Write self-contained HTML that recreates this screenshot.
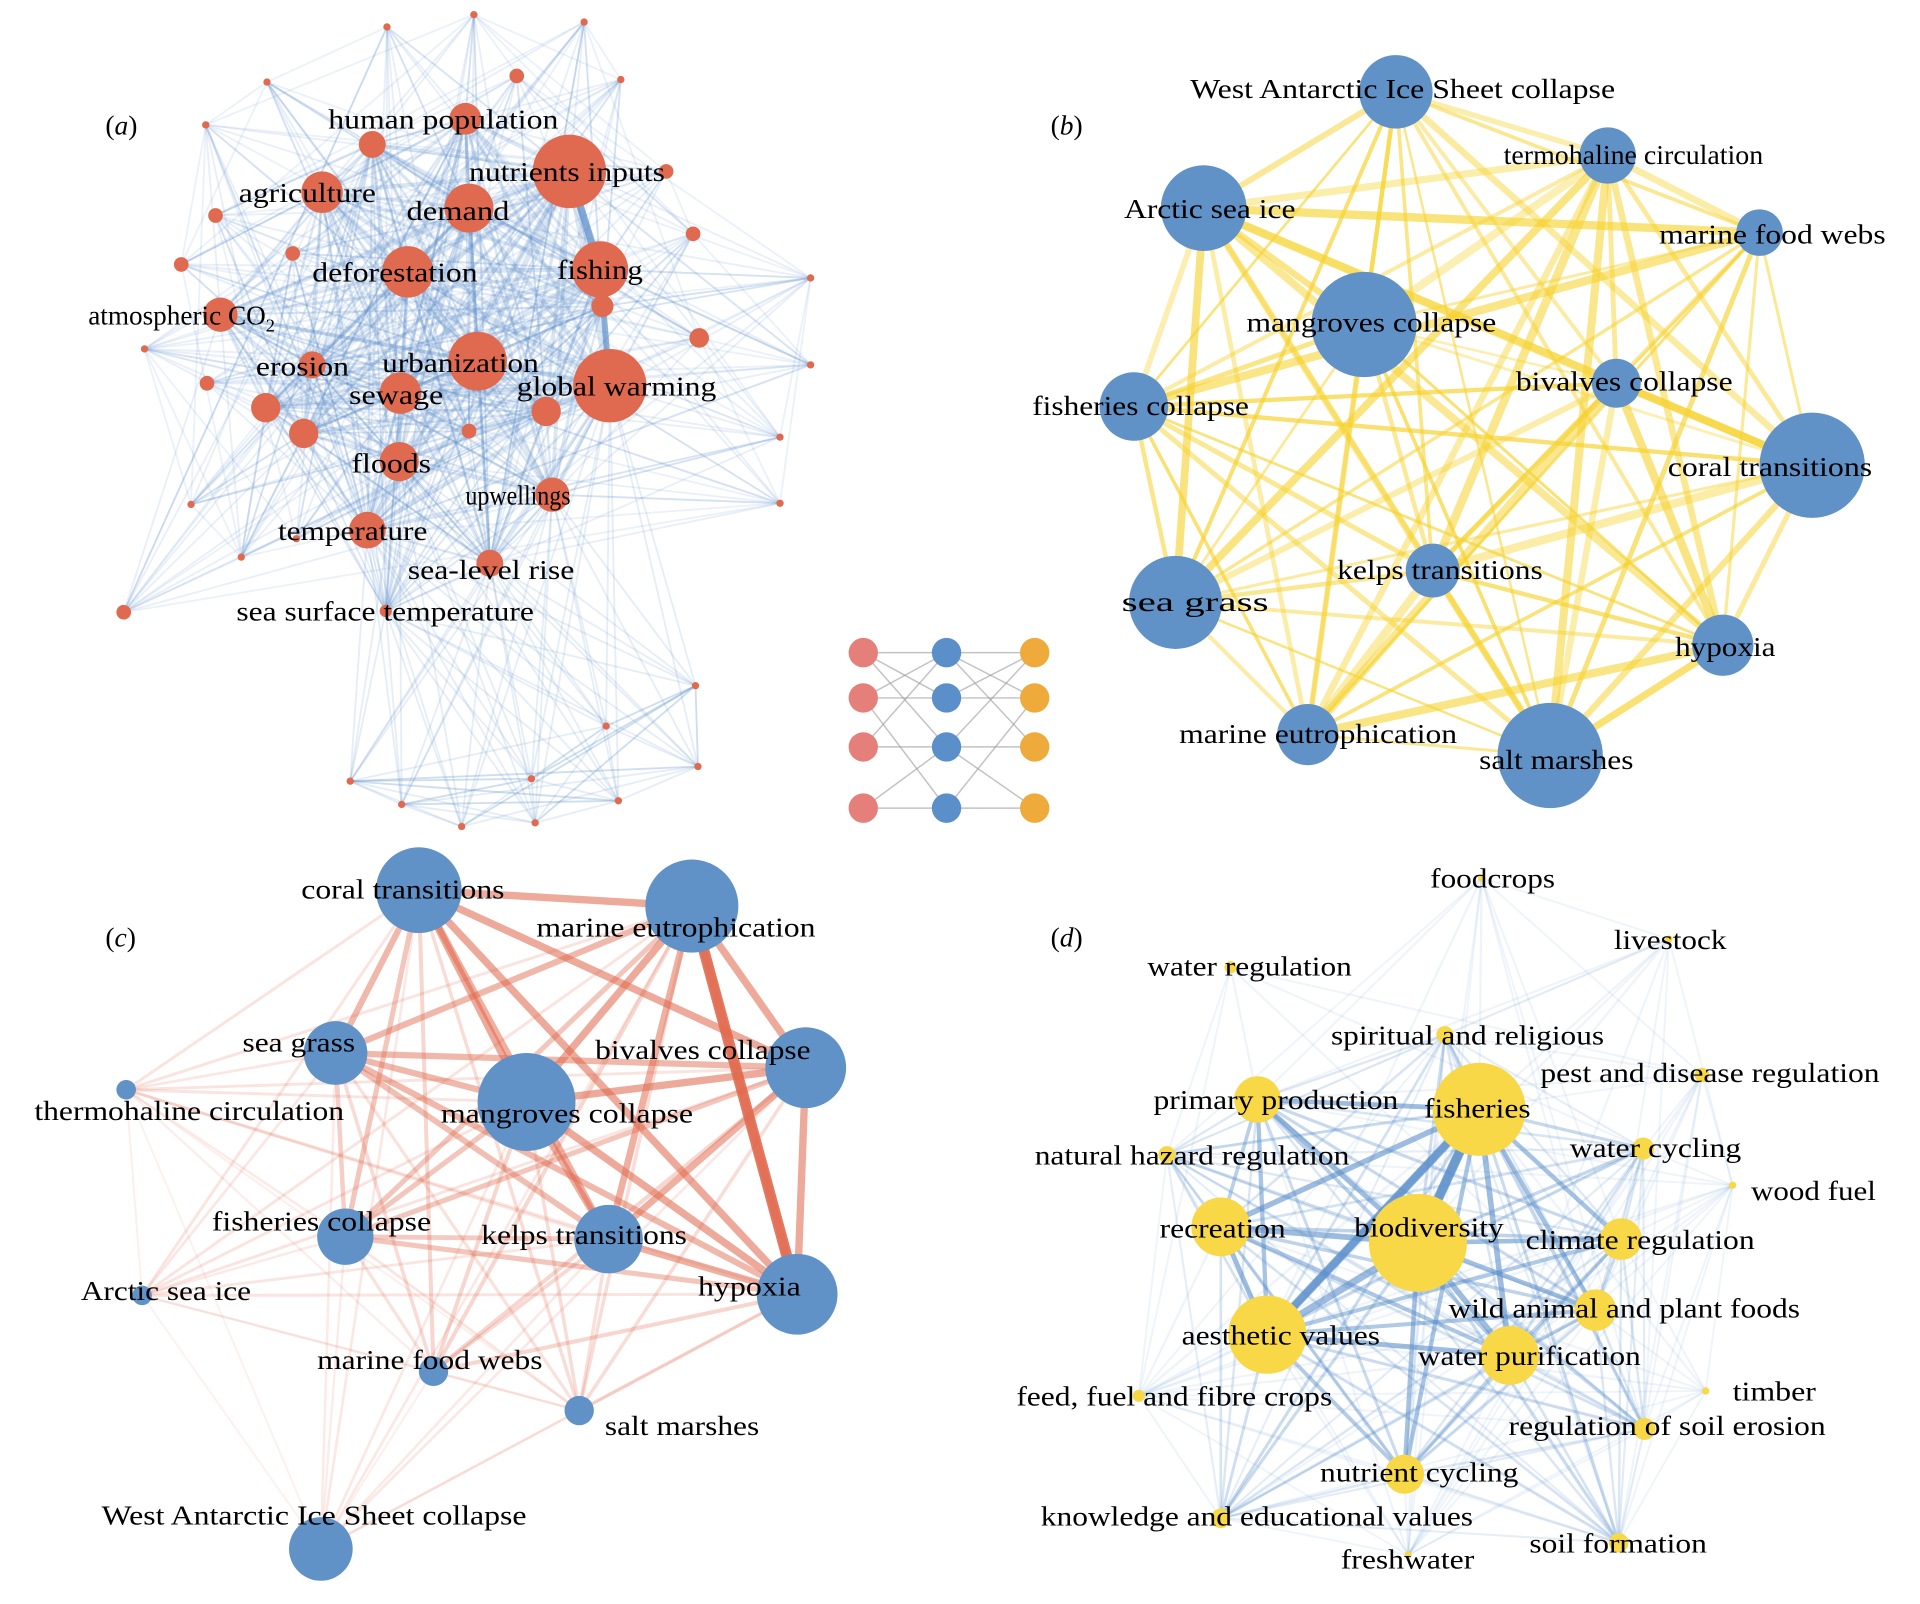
<!DOCTYPE html>
<html><head><meta charset="utf-8"><style>
html,body{margin:0;padding:0;background:#fff;}
svg{display:block;}
text{font-family:"Liberation Serif",serif;font-size:22.5px;fill:#000;}
</style></head><body>
<svg id="s" width="1920" height="1604" viewBox="0 0 1568 1310" xmlns="http://www.w3.org/2000/svg">
<g id="edges"></g><g id="nodes"></g>
<g id="labels">
<text x="86" y="102" dy=".35em">(<tspan font-style="italic">a</tspan>)</text>
<text x="858" y="102" dy=".35em">(<tspan font-style="italic">b</tspan>)</text>
<text x="86" y="765" dy=".35em">(<tspan font-style="italic">c</tspan>)</text>
<text x="858" y="765" dy=".35em">(<tspan font-style="italic">d</tspan>)</text>
<!-- a -->
<text x="268" y="97" dy=".35em" textLength="188" lengthAdjust="spacingAndGlyphs">human population</text>
<text x="383" y="140" dy=".35em" textLength="160" lengthAdjust="spacingAndGlyphs">nutrients inputs</text>
<text x="195" y="157" dy=".35em" textLength="112" lengthAdjust="spacingAndGlyphs">agriculture</text>
<text x="332" y="172" dy=".35em" textLength="84" lengthAdjust="spacingAndGlyphs">demand</text>
<text x="255" y="222" dy=".35em" textLength="135" lengthAdjust="spacingAndGlyphs">deforestation</text>
<text x="455" y="220" dy=".35em" textLength="70" lengthAdjust="spacingAndGlyphs">fishing</text>
<text x="72" y="257" dy=".35em"><tspan textLength="145" lengthAdjust="spacingAndGlyphs">atmospheric CO</tspan><tspan font-size="15" dy="6">2</tspan></text>
<text x="209" y="299" dy=".35em" textLength="76" lengthAdjust="spacingAndGlyphs">erosion</text>
<text x="312" y="296" dy=".35em" textLength="128" lengthAdjust="spacingAndGlyphs">urbanization</text>
<text x="285" y="322" dy=".35em" textLength="77" lengthAdjust="spacingAndGlyphs">sewage</text>
<text x="422" y="315" dy=".35em" textLength="163" lengthAdjust="spacingAndGlyphs">global warming</text>
<text x="287" y="378" dy=".35em" textLength="65" lengthAdjust="spacingAndGlyphs">floods</text>
<text x="380" y="404" dy=".35em" textLength="86" lengthAdjust="spacingAndGlyphs">upwellings</text>
<text x="227" y="433" dy=".35em" textLength="122" lengthAdjust="spacingAndGlyphs">temperature</text>
<text x="333" y="465" dy=".35em" textLength="136" lengthAdjust="spacingAndGlyphs">sea-level rise</text>
<text x="193" y="499" dy=".35em" textLength="243" lengthAdjust="spacingAndGlyphs">sea surface temperature</text>
<!-- b -->
<text x="972" y="72" dy=".35em" textLength="347" lengthAdjust="spacingAndGlyphs">West Antarctic Ice Sheet collapse</text>
<text x="1228" y="126" dy=".35em" textLength="212" lengthAdjust="spacingAndGlyphs">termohaline circulation</text>
<text x="918" y="170" dy=".35em" textLength="140" lengthAdjust="spacingAndGlyphs">Arctic sea ice</text>
<text x="1355" y="191" dy=".35em" textLength="185" lengthAdjust="spacingAndGlyphs">marine food webs</text>
<text x="1018" y="263" dy=".35em" textLength="204" lengthAdjust="spacingAndGlyphs">mangroves collapse</text>
<text x="1238" y="311" dy=".35em" textLength="177" lengthAdjust="spacingAndGlyphs">bivalves collapse</text>
<text x="843" y="331" dy=".35em" textLength="177" lengthAdjust="spacingAndGlyphs">fisheries collapse</text>
<text x="1362" y="381" dy=".35em" textLength="167" lengthAdjust="spacingAndGlyphs">coral transitions</text>
<text x="1092" y="465" dy=".35em" textLength="168" lengthAdjust="spacingAndGlyphs">kelps transitions</text>
<text x="916" y="491" dy=".35em" textLength="120" lengthAdjust="spacingAndGlyphs">sea grass</text>
<text x="1368" y="528" dy=".35em" textLength="82" lengthAdjust="spacingAndGlyphs">hypoxia</text>
<text x="963" y="599" dy=".35em" textLength="227" lengthAdjust="spacingAndGlyphs">marine eutrophication</text>
<text x="1208" y="620" dy=".35em" textLength="126" lengthAdjust="spacingAndGlyphs">salt marshes</text>
<!-- c -->
<text x="246" y="726" dy=".35em" textLength="166" lengthAdjust="spacingAndGlyphs">coral transitions</text>
<text x="438" y="757" dy=".35em" textLength="228" lengthAdjust="spacingAndGlyphs">marine eutrophication</text>
<text x="198" y="851" dy=".35em" textLength="92" lengthAdjust="spacingAndGlyphs">sea grass</text>
<text x="486" y="857" dy=".35em" textLength="176" lengthAdjust="spacingAndGlyphs">bivalves collapse</text>
<text x="28" y="907" dy=".35em" textLength="253" lengthAdjust="spacingAndGlyphs">thermohaline circulation</text>
<text x="360" y="909" dy=".35em" textLength="206" lengthAdjust="spacingAndGlyphs">mangroves collapse</text>
<text x="173" y="997" dy=".35em" textLength="179" lengthAdjust="spacingAndGlyphs">fisheries collapse</text>
<text x="393" y="1008" dy=".35em" textLength="168" lengthAdjust="spacingAndGlyphs">kelps transitions</text>
<text x="66" y="1054" dy=".35em" textLength="139" lengthAdjust="spacingAndGlyphs">Arctic sea ice</text>
<text x="570" y="1050" dy=".35em" textLength="84" lengthAdjust="spacingAndGlyphs">hypoxia</text>
<text x="259" y="1110" dy=".35em" textLength="184" lengthAdjust="spacingAndGlyphs">marine food webs</text>
<text x="494" y="1164" dy=".35em" textLength="126" lengthAdjust="spacingAndGlyphs">salt marshes</text>
<text x="83" y="1237" dy=".35em" textLength="347" lengthAdjust="spacingAndGlyphs">West Antarctic Ice Sheet collapse</text>
<!-- d -->
<text x="1168" y="717" dy=".35em" textLength="102" lengthAdjust="spacingAndGlyphs">foodcrops</text>
<text x="1318" y="767" dy=".35em" textLength="92" lengthAdjust="spacingAndGlyphs">livestock</text>
<text x="937" y="789" dy=".35em" textLength="167" lengthAdjust="spacingAndGlyphs">water regulation</text>
<text x="1087" y="845" dy=".35em" textLength="223" lengthAdjust="spacingAndGlyphs">spiritual and religious</text>
<text x="1258" y="876" dy=".35em" textLength="277" lengthAdjust="spacingAndGlyphs">pest and disease regulation</text>
<text x="942" y="898" dy=".35em" textLength="200" lengthAdjust="spacingAndGlyphs">primary production</text>
<text x="1163" y="905" dy=".35em" textLength="87" lengthAdjust="spacingAndGlyphs">fisheries</text>
<text x="845" y="943" dy=".35em" textLength="257" lengthAdjust="spacingAndGlyphs">natural hazard regulation</text>
<text x="1282" y="937" dy=".35em" textLength="140" lengthAdjust="spacingAndGlyphs">water cycling</text>
<text x="1430" y="972" dy=".35em" textLength="102" lengthAdjust="spacingAndGlyphs">wood fuel</text>
<text x="947" y="1003" dy=".35em" textLength="103" lengthAdjust="spacingAndGlyphs">recreation</text>
<text x="1106" y="1002" dy=".35em" textLength="122" lengthAdjust="spacingAndGlyphs">biodiversity</text>
<text x="1246" y="1012" dy=".35em" textLength="187" lengthAdjust="spacingAndGlyphs">climate regulation</text>
<text x="1183" y="1068" dy=".35em" textLength="287" lengthAdjust="spacingAndGlyphs">wild animal and plant foods</text>
<text x="965" y="1090" dy=".35em" textLength="162" lengthAdjust="spacingAndGlyphs">aesthetic values</text>
<text x="1158" y="1107" dy=".35em" textLength="182" lengthAdjust="spacingAndGlyphs">water purification</text>
<text x="830" y="1140" dy=".35em" textLength="258" lengthAdjust="spacingAndGlyphs">feed, fuel and fibre crops</text>
<text x="1415" y="1136" dy=".35em" textLength="68" lengthAdjust="spacingAndGlyphs">timber</text>
<text x="1232" y="1164" dy=".35em" textLength="259" lengthAdjust="spacingAndGlyphs">regulation of soil erosion</text>
<text x="1078" y="1202" dy=".35em" textLength="162" lengthAdjust="spacingAndGlyphs">nutrient cycling</text>
<text x="850" y="1238" dy=".35em" textLength="353" lengthAdjust="spacingAndGlyphs">knowledge and educational values</text>
<text x="1095" y="1273" dy=".35em" textLength="109" lengthAdjust="spacingAndGlyphs">freshwater</text>
<text x="1249" y="1260" dy=".35em" textLength="145" lengthAdjust="spacingAndGlyphs">soil formation</text>
</g>
</svg>
<script>
(function(){
var NS="http://www.w3.org/2000/svg";
var E=document.getElementById("edges"),N=document.getElementById("nodes");
var seed=12345;function rnd(){seed=(seed*16807)%2147483647;return seed/2147483647;}
function line(a,b,c,w,o){var l=document.createElementNS(NS,"line");l.setAttribute("x1",a[0]);l.setAttribute("y1",a[1]);l.setAttribute("x2",b[0]);l.setAttribute("y2",b[1]);l.setAttribute("stroke",c);l.setAttribute("stroke-width",w);l.setAttribute("stroke-opacity",o);E.appendChild(l);}
function circ(p,c,o){var e=document.createElementNS(NS,"circle");e.setAttribute("cx",p[0]);e.setAttribute("cy",p[1]);e.setAttribute("r",p[2]);e.setAttribute("fill",c);if(o)e.setAttribute("fill-opacity",o);N.appendChild(e);}
var BLUE="#5b8fca";
// panel a
var A=[[380,97,13],[304,118,11],[263,157,17],[383,170,20],[465,140,30],[333,222,21],[490,220,23],[492,250,9],[180,257,14],[390,295,24],[498,315,30],[255,298,11],[327,321,17],[217,333,12],[248,354,12],[446,336,12],[383,352,6],[326,377,16],[451,404,14],[300,433,15],[400,460,11],[315,499,5]];
var As=[[387,12,3],[316,22,3],[477,18,3],[422,62,6],[507,65,3],[218,67,3],[168,102,3],[544,140,6],[176,176,6],[148,216,6],[239,207,6],[566,191,6],[571,276,8],[662,227,3],[118,285,3],[169,313,6],[662,298,3],[637,357,3],[156,412,3],[637,411,3],[197,455,3],[101,500,6],[242,440,3]];
var Ab=[[568,560,3],[495,593,3],[570,626,3],[434,636,3],[286,638,3],[328,657,3],[505,654,3],[377,675,3],[437,672,3]];
for(var i=0;i<A.length;i++)for(var j=i+1;j<A.length;j++){line(A[i],A[j],BLUE,1+A[i][2]*A[j][2]/200,0.22);}
As.forEach(function(s){for(var k=0;k<10;k++){var t=A[Math.floor(rnd()*A.length)];line(s,t,BLUE,1.5,0.14);}for(var k=0;k<3;k++){var t=As[Math.floor(rnd()*As.length)];line(s,t,BLUE,1.5,0.12);}});
var hub=[A[21],A[20],A[19],A[18],A[17],A[10]];
Ab.forEach(function(s){hub.forEach(function(h){line(s,h,BLUE,1.5,0.16);});Ab.forEach(function(t){if(rnd()<0.5)line(s,t,BLUE,1.5,0.16);});});
line(A[4],A[6],BLUE,6,0.7);line(A[6],A[10],BLUE,5,0.6);
A.concat(As,Ab).forEach(function(p){circ(p,"#e06a50");});
// legend
var cols=[705,773,845],rows=[533,570,610,660];
var pairs=[[0,0],[0,1],[1,0],[1,1],[2,2],[3,3],[1,3],[3,2],[2,0],[0,2]];
pairs.forEach(function(q){line([cols[0],rows[q[0]]],[cols[1],rows[q[1]]],"#999",1.2,0.6);line([cols[1],rows[q[1]]],[cols[2],rows[q[0]]],"#999",1.2,0.6);});
rows.forEach(function(y){circ([cols[0],y,12],"#e57f7a");circ([cols[1],y,12],BLUE);circ([cols[2],y,12],"#eeaa3a");});
// panel b
var B=[[1140,75,30],[1313,127,23],[983,170,35],[1437,190,19],[1114,265,43],[1320,313,20],[926,332,28],[1480,380,43],[1170,466,22],[960,492,38],[1407,527,25],[1068,600,25],[1266,617,43]];
for(var i=0;i<B.length;i++)for(var j=i+1;j<B.length;j++){line(B[i],B[j],"#f6d22e",2+rnd()*5,0.35+rnd()*0.35);}
B.forEach(function(p){circ(p,"#6092c8");});
// panel c
var C=[[342,727,35],[565,740,38],[274,860,26],[658,872,33],[103,890,8],[430,900,40],[282,1010,23],[497,1012,28],[116,1058,8],[651,1057,33],[354,1120,12],[473,1152,12],[262,1265,26]];
var CS=[1,1,0.8,1,0.2,1,0.6,0.9,0.2,1,0.4,0.3,0.15];
for(var i=0;i<C.length;i++)for(var j=i+1;j<C.length;j++){var s=CS[i]*CS[j];line(C[i],C[j],"#e06a50",1.5+4.5*s,0.08+0.5*s);}
line(C[1],C[9],"#e06a50",9,0.9);
C.forEach(function(p){circ(p,"#6092c8");});
// panel d
var D=[[1210,717,3],[1363,767,3],[1005,790,5],[1180,845,7],[1390,878,6],[1027,898,19],[1208,906,38],[953,943,7],[1342,938,9],[1415,968,3],[997,1002,24],[1158,1015,40],[1324,1012,17],[1303,1070,17],[1035,1090,32],[1233,1107,24],[930,1140,5],[1393,1136,3],[1343,1167,9],[1147,1204,16],[997,1240,8],[1150,1270,3],[1322,1260,8]];
for(var i=0;i<D.length;i++)for(var j=i+1;j<D.length;j++){var s=D[i][2]*D[j][2];var big=D[i][2]>=7&&D[j][2]>=7;if(big||rnd()<0.6)line(D[i],D[j],BLUE,1.5+s/300,big?Math.min(0.6,0.12+s/1500):0.1);}
line(D[6],D[14],BLUE,7,0.7);line(D[6],D[11],BLUE,8,0.75);
D.forEach(function(p){circ(p,"#f8d846");});
})();
</script>
</body></html>
